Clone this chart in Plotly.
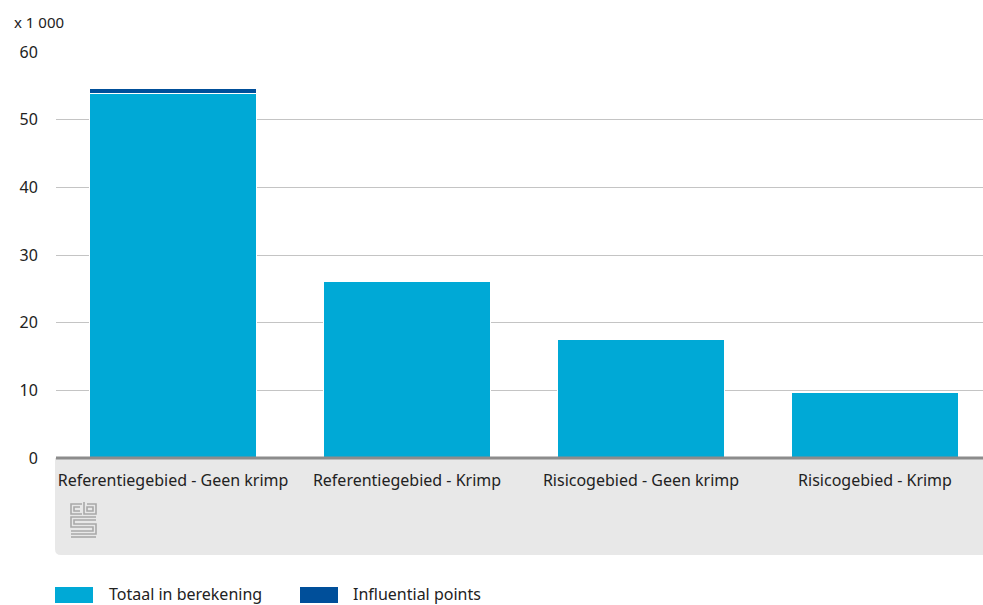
import plotly.graph_objects as go

categories = ["Referentiegebied - Geen krimp", "Referentiegebied - Krimp",
              "Risicogebied - Geen krimp", "Risicogebied - Krimp"]
totaal = [53.9, 26.1, 17.5, 9.7]
influential = [0.75, 0.0, 0.0, 0.0]
y_ticks = [0, 10, 20, 30, 40, 50, 60]

LIGHT = "#00a9d6"
DARK = "#004f9a"
FONT = "Noto Sans"
W, H = 992, 605          # a bit wider than the window, as in the source
L, T, B = 56, 52, 147


def px_x(p):
    return (p - L) / (W - L)


def px_y(p):
    return (H - B - p) / (H - B - T)


fig = go.Figure()
fig.add_bar(x=categories, y=totaal, name="Totaal in berekening",
            marker=dict(color=LIGHT, line=dict(color="white", width=1)), showlegend=False)
fig.add_bar(x=categories, y=influential, name="Influential points",
            marker=dict(color=DARK, line=dict(color="white", width=1)), showlegend=False)

shapes = []
# grey panel under the axis with rounded bottom-left corner
y0, y1 = px_y(555), px_y(458)
r = 6
shapes.append(dict(type="path", xref="paper", yref="paper", layer="below",
                   path=(f"M {px_x(55)},{y1} L 1,{y1} L 1,{y0} L {px_x(55 + r)},{y0} "
                         f"Q {px_x(55)},{y0} {px_x(55)},{px_y(555 - r)} Z"),
                   fillcolor="#e8e8e8", line=dict(width=0)))
# axis base line
shapes.append(dict(type="line", xref="paper", yref="paper", x0=0, x1=1, y0=0, y1=0,
                   line=dict(color="#8c8c8c", width=3)))

# cbs logo, rough outline
lg = "#a8a8a8"
logo = [
    "M 82,504 L 71,504 L 71,514 L 82,514",
    "M 80,507 L 74,507 L 74,511 L 80,511",
    "M 84,502 L 84,514 L 96,514 L 96,504 L 87,504",
    "M 87,507 L 93,507 L 93,511 L 87,511 Z",
    "M 96,517 L 71,517 L 71,527 L 93,527 L 93,531 L 71,531",
    "M 96,520 L 74,520 L 74,524 L 96,524 L 96,534 L 71,534",
    "M 71,537 L 96,537",
]
for seg in logo:
    out = []
    for tok in seg.split(" "):
        if "," in tok:
            a, b = tok.split(",")
            out.append(f"{px_x(float(a))},{px_y(float(b))}")
        else:
            out.append(tok)
    shapes.append(dict(type="path", xref="paper", yref="paper", path=" ".join(out),
                       line=dict(color=lg, width=1.6)))

# legend swatches
shapes.append(dict(type="rect", xref="paper", yref="paper", x0=px_x(55), x1=px_x(93),
                   y0=px_y(603), y1=px_y(587), fillcolor=LIGHT, line=dict(width=0)))
shapes.append(dict(type="rect", xref="paper", yref="paper", x0=px_x(300), x1=px_x(338),
                   y0=px_y(603), y1=px_y(587), fillcolor=DARK, line=dict(width=0)))

annotations = [
    dict(text="x 1 000", xref="paper", yref="paper", x=px_x(12), y=px_y(22),
         xanchor="left", yanchor="middle", showarrow=False, font=dict(size=15, color="#222")),
    dict(text="Totaal in berekening", xref="paper", yref="paper", x=px_x(107), y=px_y(594),
         xanchor="left", yanchor="middle", showarrow=False, font=dict(size=16, color="#222")),
    dict(text="Influential points", xref="paper", yref="paper", x=px_x(351), y=px_y(594),
         xanchor="left", yanchor="middle", showarrow=False, font=dict(size=16, color="#222")),
]

fig.update_layout(
    width=W, height=H, barmode="stack", bargap=0.286,
    paper_bgcolor="white", plot_bgcolor="white",
    font=dict(family=FONT, size=15, color="#222"),
    margin=dict(l=L, r=0, t=T, b=B),
    shapes=shapes, annotations=annotations,
)
fig.update_xaxes(showgrid=False, showline=False, ticks="outside", ticklen=8,
                 tickcolor="rgba(0,0,0,0)", tickfont=dict(size=16))
fig.update_yaxes(range=[0, 60], tickvals=y_ticks, showgrid=True, gridcolor="#c4c4c4",
                 zeroline=False, ticks="outside", ticklen=14, tickcolor="rgba(0,0,0,0)",
                 tickfont=dict(size=16))

fig.write_html("out.html", config={"displayModeBar": False},
               post_script="document.body.style.margin='0';document.body.style.overflow='hidden';")
